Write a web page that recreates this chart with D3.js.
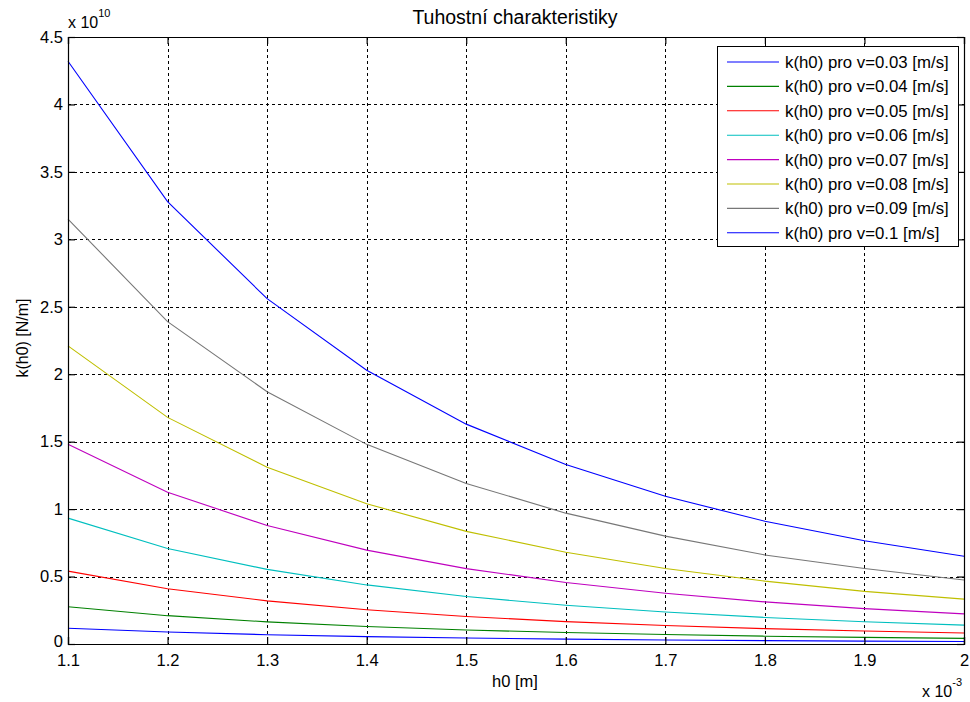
<!DOCTYPE html>
<html><head><meta charset="utf-8">
<script src="https://cdn.jsdelivr.net/npm/d3@7"></script>
<style>body{margin:0;background:#fff}svg text{font-family:"Liberation Sans",Arial,sans-serif;fill:#000}</style>
</head><body><svg id="c" width="970" height="702"></svg>
<script>
const h0 = [1.1, 1.2, 1.3, 1.4, 1.5, 1.6, 1.7, 1.8, 1.9, 2.0];
const k_v003 = [0.117, 0.089, 0.069, 0.055, 0.044, 0.036, 0.030, 0.025, 0.021, 0.018];
const k_v004 = [0.276, 0.210, 0.164, 0.130, 0.104, 0.085, 0.070, 0.058, 0.049, 0.042];
const k_v005 = [0.540, 0.410, 0.320, 0.254, 0.204, 0.166, 0.137, 0.114, 0.096, 0.081];
const k_v006 = [0.933, 0.708, 0.553, 0.438, 0.352, 0.287, 0.237, 0.197, 0.165, 0.140];
const k_v007 = [1.480, 1.125, 0.878, 0.696, 0.559, 0.456, 0.376, 0.312, 0.262, 0.223];
const k_v008 = [2.210, 1.680, 1.310, 1.040, 0.835, 0.680, 0.560, 0.466, 0.390, 0.333];
const k_v009 = [3.150, 2.390, 1.870, 1.480, 1.190, 0.970, 0.800, 0.660, 0.560, 0.475];
const k_v010 = [4.320, 3.280, 2.560, 2.030, 1.630, 1.330, 1.095, 0.910, 0.765, 0.650];
const seriesNames = ["k(h0) pro v=0.03 [m/s]","k(h0) pro v=0.04 [m/s]","k(h0) pro v=0.05 [m/s]","k(h0) pro v=0.06 [m/s]","k(h0) pro v=0.07 [m/s]","k(h0) pro v=0.08 [m/s]","k(h0) pro v=0.09 [m/s]","k(h0) pro v=0.1 [m/s]"];
const seriesColors = ["#0000ff","#008000","#ff0000","#00bfbf","#bf00bf","#bfbf00","#777777","#0000ff"];
const xTicks = [1.1,1.2,1.3,1.4,1.5,1.6,1.7,1.8,1.9,2];
const yTicks = [0,0.5,1,1.5,2,2.5,3,3.5,4,4.5];
const series = [k_v003,k_v004,k_v005,k_v006,k_v007,k_v008,k_v009,k_v010];

const FONT = '"Liberation Sans",Arial,sans-serif';
const svg = d3.select("#c");
const L=68,R=964,T=37,B=644;
const x = d3.scaleLinear().domain([1.1,2]).range([L,R]);
const y = d3.scaleLinear().domain([0,4.5]).range([B,T]);

svg.append("rect").attr("x",0).attr("y",0).attr("width",970).attr("height",702).attr("fill","#fff");
const g = svg.append("g");
// grid
g.selectAll(".gx").data(xTicks.slice(1,-1)).join("line")
  .attr("x1",d=>Math.round(x(d))+0.5).attr("x2",d=>Math.round(x(d))+0.5).attr("y1",T).attr("y2",B)
  .attr("stroke","#000").attr("stroke-width",1).attr("stroke-dasharray","3,3");
g.selectAll(".gy").data(yTicks.slice(1,-1)).join("line")
  .attr("y1",d=>Math.round(y(d))+0.5).attr("y2",d=>Math.round(y(d))+0.5).attr("x1",L).attr("x2",R)
  .attr("stroke","#000").attr("stroke-width",1).attr("stroke-dasharray","3,3");

// lines
const line = d3.line().x((d,i)=>x(h0[i])).y(d=>y(d));
series.forEach((s,i)=>{
  g.append("path").attr("d",line(s)).attr("fill","none").attr("stroke",seriesColors[i]).attr("stroke-width",1.1);
});

// axes
const ax = g.append("g").attr("transform",`translate(0,${B})`).call(d3.axisBottom(x).tickValues(xTicks).tickSize(-7).tickPadding(10).tickFormat(d=>d3.format("")(+d.toFixed(1))));
const ax2 = g.append("g").attr("transform",`translate(0,${T})`).call(d3.axisTop(x).tickValues(xTicks).tickSize(-7).tickFormat(""));
const ay = g.append("g").attr("transform",`translate(${L},0)`).call(d3.axisLeft(y).tickValues(yTicks).tickSize(-7).tickPadding(5).tickFormat(d=>d3.format("")(d)));
const ay2 = g.append("g").attr("transform",`translate(${R},0)`).call(d3.axisRight(y).tickValues(yTicks).tickSize(-7).tickFormat(""));
[ax,ax2,ay,ay2].forEach(a=>{
  a.select(".domain").attr("stroke","#000").attr("stroke-width",1.2);
  a.selectAll(".tick line").attr("stroke","#000").attr("stroke-width",1.2);
  a.selectAll("text").style("font-size","16.5px").attr("fill","#000").style("font-family",FONT);
});
ax.selectAll("text").attr("dy","0.71em");
ay.selectAll(".tick").filter(d=>d===0).select("text").attr("dy","0.16em");

// title and labels
svg.append("text").attr("x",515).attr("y",24).attr("text-anchor","middle").style("font-size","19.5px").text("Tuhostní charakteristiky");
svg.append("text").attr("x",515).attr("y",687).attr("text-anchor","middle").style("font-size","16.5px").text("h0 [m]");
svg.append("text").attr("transform","translate(28,338) rotate(-90)").attr("text-anchor","middle").style("font-size","16px").text("k(h0) [N/m]");
const e1 = svg.append("text").attr("x",68).attr("y",28).style("font-size","16px");
e1.append("tspan").text("x 10");
e1.append("tspan").attr("dy",-11).style("font-size","11px").text("10");
const e2 = svg.append("text").attr("x",922).attr("y",697).style("font-size","16px");
e2.append("tspan").text("x 10");
e2.append("tspan").attr("dy",-11).style("font-size","11px").text("-3");

// legend
const lg = svg.append("g");
lg.append("rect").attr("x",717.5).attr("y",46.5).attr("width",241).attr("height",200).attr("fill","#fff").attr("stroke","#000").attr("stroke-width",1);
seriesNames.forEach((n,i)=>{
  const yy = 62 + i*24.4;
  lg.append("line").attr("x1",727).attr("x2",779).attr("y1",yy).attr("y2",yy).attr("stroke",seriesColors[i]).attr("stroke-width",1.1);
  lg.append("text").attr("x",785).attr("y",yy+6).style("font-size","16.8px").text(n);
});
</script></body></html>
